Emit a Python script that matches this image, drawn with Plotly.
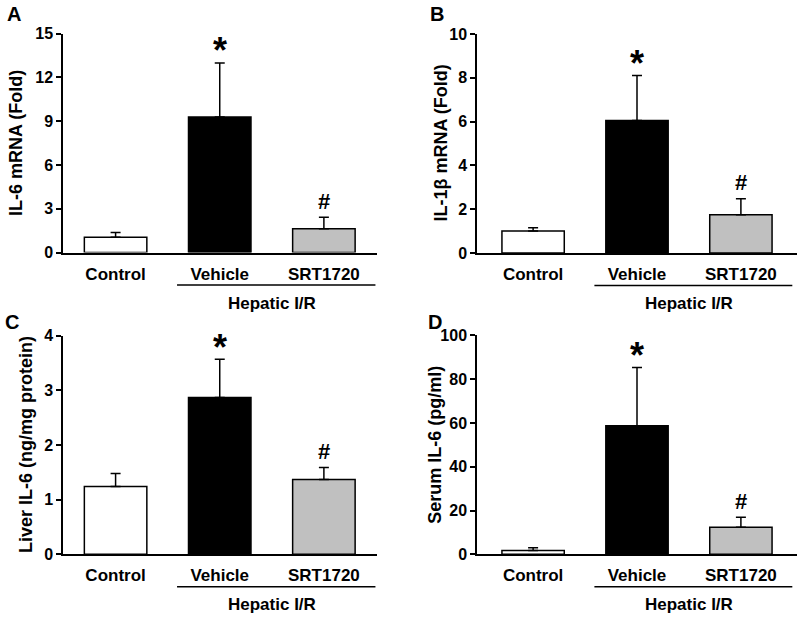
import plotly.graph_objects as go

categories = ["Control", "Vehicle", "SRT1720"]
colors = ["#ffffff", "#000000", "#c0c0c0"]

il6_mrna = [1.05, 9.28, 1.62]
il6_mrna_err = [0.32, 3.70, 0.80]
il1b_mrna = [1.00, 6.05, 1.75]
il1b_mrna_err = [0.15, 2.05, 0.73]
liver_il6 = [1.24, 2.87, 1.37]
liver_il6_err = [0.24, 0.70, 0.22]
serum_il6 = [1.7, 58.75, 12.3]
serum_il6_err = [1.3, 26.6, 4.6]

panels = [
    dict(letter="A", vals=il6_mrna, errs=il6_mrna_err, title="IL-6 mRNA (Fold)",
         yr=[0, 15], dt=3, xd=[63/800, 377/800], yd=[1-252.5/619, 1-33.5/619],
         xr=[-0.505, 2.51], lx=14/800, ly=1-14/619, tx=16/800),
    dict(letter="B", vals=il1b_mrna, errs=il1b_mrna_err, title="IL-1β mRNA (Fold)",
         yr=[0, 10], dt=2, xd=[477/800, 797/800], yd=[1-253/619, 1-34/619],
         xr=[-0.54, 2.54], lx=437/800, ly=1-14/619, tx=441/800),
    dict(letter="C", vals=liver_il6, errs=liver_il6_err, title="Liver IL-6 (ng/mg protein)",
         yr=[0, 4], dt=1, xd=[63/800, 377/800], yd=[1-554.3/619, 1-335.7/619],
         xr=[-0.505, 2.51], lx=12/800, ly=1-322/619, tx=26/800),
    dict(letter="D", vals=serum_il6, errs=serum_il6_err, title="Serum IL-6 (pg/ml)",
         yr=[0, 100], dt=20, xd=[477/800, 797/800], yd=[1-554.3/619, 1-335.3/619],
         xr=[-0.54, 2.54], lx=435/800, ly=1-322/619, tx=435/800),
]

FONT = "Arial, Liberation Sans, sans-serif"
fig = go.Figure()
annotations = []
shapes = []

for i, p in enumerate(panels):
    n = "" if i == 0 else str(i + 1)
    xa, ya = "x" + n, "y" + n
    fig.add_trace(go.Bar(
        x=categories, y=p["vals"], xaxis=xa, yaxis=ya, width=0.6,
        marker=dict(color=colors, line=dict(color="black", width=1.5)),
        error_y=dict(type="data", symmetric=False, array=p["errs"],
                     arrayminus=[0, 0, 0], color="black", thickness=1.5, width=5),
        showlegend=False,
    ))
    fig.layout["xaxis" + n] = dict(
        domain=p["xd"], anchor=ya, range=p["xr"], type="category", automargin=False,
        showline=True, linecolor="black", linewidth=1.5, ticks="", showgrid=False,
        tickfont=dict(family=FONT, size=17, color="black", weight="bold"),
        ticklabelstandoff=5, zeroline=False, fixedrange=True,
    )
    fig.layout["yaxis" + n] = dict(
        domain=p["yd"], anchor=xa, range=p["yr"], dtick=p["dt"], automargin=False,
        showline=True, linecolor="black", linewidth=1.5, ticks="outside",
        ticklen=5, tickwidth=1.5, tickcolor="black", showgrid=False, zeroline=False,
        tickfont=dict(family=FONT, size=16, color="black", weight="bold"),
    )
    tops = [v + e for v, e in zip(p["vals"], p["errs"])]
    annotations.append(dict(x="Vehicle", y=tops[1], xref=xa, yref=ya, text="*",
                            showarrow=False, yanchor="middle", yshift=12,
                            font=dict(family=FONT, size=36, color="black", weight="bold")))
    annotations.append(dict(x="SRT1720", y=tops[2], xref=xa, yref=ya, text="#",
                            showarrow=False, yanchor="middle", yshift=16,
                            font=dict(family=FONT, size=22, color="black", weight="bold")))
    # group bracket line and label
    yline = p["yd"][0] - 32.5 / 619
    shapes.append(dict(type="line", xref=xa, yref="paper", x0=0.59, x1=2.495,
                       y0=yline, y1=yline, line=dict(color="black", width=1.5)))
    annotations.append(dict(x=1.5, y=yline - 18 / 619, xref=xa, yref="paper",
                            text="Hepatic I/R", showarrow=False, yanchor="middle",
                            font=dict(family=FONT, size=17, color="black", weight="bold")))
    annotations.append(dict(x=p["lx"], y=p["ly"], xref="paper", yref="paper",
                            text=p["letter"], showarrow=False, xanchor="center",
                            yanchor="middle",
                            font=dict(family=FONT, size=20, color="black", weight="bold")))
    annotations.append(dict(x=p["tx"], y=sum(p["yd"]) / 2, xref="paper", yref="paper",
                            text=p["title"], showarrow=False, textangle=-90,
                            xanchor="center", yanchor="middle",
                            font=dict(family=FONT, size=18, color="black", weight="bold")))

fig.update_layout(
    width=800, height=619, margin=dict(l=0, r=0, t=0, b=0),
    paper_bgcolor="white", plot_bgcolor="white",
    annotations=annotations, shapes=shapes, bargap=0.4,
)
fig.write_html("out.html", config={"displayModeBar": False},
               post_script="document.body.style.margin='0';document.body.style.overflow='hidden';")
